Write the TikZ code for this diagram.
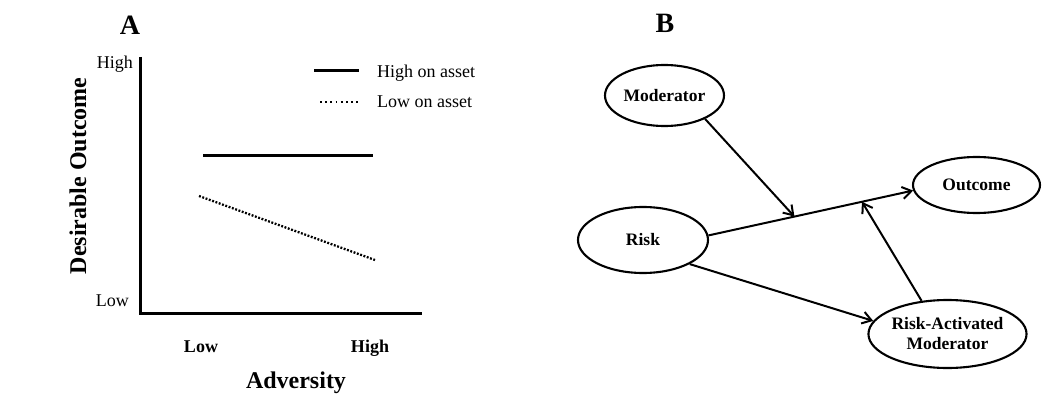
\documentclass[tikz,border=0pt]{standalone}
\usepackage{fontspec}
\setmainfont{Liberation Serif}
\usetikzlibrary{positioning,arrows.meta,shapes.geometric}

\begin{document}
\begin{tikzpicture}[
  x=1pt, y=-1pt,
  font=\fontsize{18}{20}\selectfont,
  axis/.style={line width=3pt},
  hiline/.style={line width=3pt},
  loline/.style={line width=2.3pt, dash pattern=on 1.9pt off 1.6pt},
  lgdots/.style={line width=2.3pt, dash pattern=on 1.8pt off 3.4pt},
  tick/.style={font=\fontsize{18}{20}\selectfont\bfseries},
  ttl/.style={font=\fontsize{24}{26}\selectfont\bfseries},
  panel/.style={font=\fontsize{28}{30}\selectfont\bfseries},
  var/.style={draw, ellipse, line width=2.1pt, inner sep=0pt, align=center,
              font=\fontsize{17.5}{20}\selectfont\bfseries},
  arr/.style={-{Straight Barb[length=9pt,width=12pt]}, line width=2pt}
]
\useasboundingbox (0,0) rectangle (1045,409);

% panel A
\node[panel] (pa) at (130,25) {A};
\coordinate (ytop) at (140,57);
\coordinate (orig) at (140,313);
\coordinate (xend) at (422,313);
\draw[axis] (ytop) -- (orig) -- (xend);
\node[anchor=base east, inner sep=0pt] (yhi) at (133,69) {High};
\node[anchor=base east, inner sep=0pt] (ylo) at (129,306) {Low};
\node[ttl, rotate=90] (ylab) at (78,176) {Desirable Outcome};
\node[tick, anchor=base, inner sep=0pt] (xlo) at (201,352) {Low};
\node[tick, anchor=base, inner sep=0pt] (xhi) at (370,352) {High};
\node[ttl, anchor=base, inner sep=0pt] (xlab) at (296,388) {Adversity};

\coordinate (hi1) at (203,156); \coordinate (hi2) at (373,156);
\coordinate (lo1) at (199,196); \coordinate (lo2) at (375,260);
\draw[hiline] (hi1) -- (hi2);
\draw[loline] (lo1) -- (lo2);

% legend
\coordinate (lg1) at (314,71); \coordinate (lg2) at (359,71);
\coordinate (lg3) at (320,102); \coordinate (lg4) at (359,102);
\draw[hiline] (lg1) -- (lg2);
\draw[lgdots] (lg3) -- (lg4);
\node[anchor=base west, inner sep=0pt] (lghi) at (377,78) {High on asset};
\node[anchor=base west, inner sep=0pt] (lglo) at (377,108) {Low on asset};

% panel B
\node[panel] (pb) at (665,23) {B};
\node[var, minimum width=119pt, minimum height=61pt] (mod)  at (664.5,95.5) {Moderator};
\node[var, minimum width=130pt, minimum height=66pt] (risk) at (643,240) {Risk};
\node[var, minimum width=127pt, minimum height=56pt] (out)  at (976.5,185) {Outcome};
\node[var, minimum width=151pt, minimum height=68pt] (ram)  at (947.5,334) {Risk-Activated\\Moderator};

\draw[arr] (risk.4) -- (out.185) coordinate[pos=0.42] (j1) coordinate[pos=0.75] (j2);
\draw[arr] (mod.-30) -- (j1);
\draw[arr] (ram.128) -- (j2);
\draw[arr] (risk.south east) -- (ram.170);
\end{tikzpicture}
\end{document}
